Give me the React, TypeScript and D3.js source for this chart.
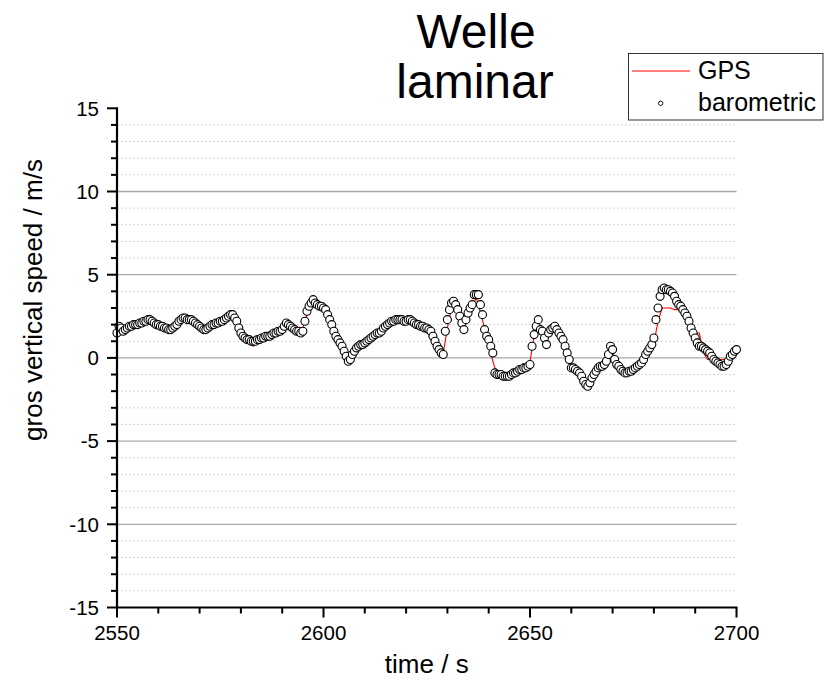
import React from "react";
import * as d3 from "d3";

const titleLines = ["Welle", "laminar"];
const xLabel = "time / s";
const yLabel = "gros vertical speed / m/s";
const legendLabels = ["GPS", "barometric"];

const xMajorTicks = [2550, 2600, 2650, 2700];
const yMajorTicks = [-15, -10, -5, 0, 5, 10, 15];

// GPS vertical speed, one sample per second from 2550 s
const gpsStart = 2550;
const gpsStep = 1;
const gpsValues = [
  2.0, 1.7, 1.8, 1.9, 2.0, 2.0, 2.1, 2.2, 2.3, 2.2,
  2.0, 1.9, 2.0, 1.8, 1.8, 2.1, 2.4, 2.3, 2.3, 2.2,
  1.9, 1.8, 1.8, 2.0, 2.1, 2.2, 2.4, 2.5, 2.6, 2.3,
  1.6, 1.2, 0.9, 0.7, 1.0, 1.2, 1.3, 1.4, 1.5, 1.6,
  1.8, 2.0, 1.9, 1.7, 1.6, 1.8, 2.6, 3.0, 3.1, 3.1,
  2.9, 2.5, 2.0, 1.4, 0.9, 0.3, -0.1, 0.1, 0.5, 0.8,
  1.0, 1.1, 1.3, 1.5, 1.7, 1.9, 2.1, 2.2, 2.3, 2.4,
  2.2, 2.2, 2.1, 2.0, 1.9, 1.7, 1.4, 0.9, 0.4, 0.3,
  1.8, 3.0, 3.0, 2.5, 2.1, 2.6, 3.1, 3.6, 2.7, 1.8,
  0.8, -0.2, -1.0, -1.2, -1.3, -1.3, -1.0, -0.9, -0.7, -0.5,
  -0.2, 1.3, 1.8, 1.8, 1.5, 1.6, 1.7, 1.4, 0.8, 0.2,
  -0.5, -0.8, -1.0, -1.4, -1.6, -1.3, -0.8, -0.6, -0.3, 0.0,
  0.4, -0.3, -0.6, -0.8, -0.8, -0.6, -0.4, -0.2, 0.1, 0.5,
  0.9, 2.2, 3.0, 3.0, 3.0, 2.9, 2.9, 2.6, 2.2, 1.6,
  1.5, 1.5, 0.3, -0.1, -0.1, -0.1, -0.1, -0.1, 0.0, 0.2,
  0.5,
];

// Barometric vertical speed, one sample every 0.5 s from 2550 s
const baroStart = 2550;
const baroStep = 0.5;
const baroValues = [
  1.5, 1.9, 1.8, 1.6, 1.7, 1.8, 1.9, 1.9, 2.0, 2.0,
  2.0, 2.1, 2.1, 2.2, 2.2, 2.3, 2.3, 2.2, 2.1, 2.0,
  2.0, 1.9, 1.9, 1.8, 1.8, 1.7, 1.7, 1.8, 1.9, 2.0,
  2.2, 2.3, 2.4, 2.4, 2.3, 2.3, 2.3, 2.2, 2.1, 2.0,
  1.9, 1.8, 1.7, 1.7, 1.8, 1.9, 2.0, 2.0, 2.1, 2.1,
  2.2, 2.2, 2.3, 2.4, 2.5, 2.6, 2.6, 2.4, 2.2, 1.8,
  1.5, 1.3, 1.2, 1.1, 1.1, 1.0, 1.0, 1.0, 1.1, 1.1,
  1.2, 1.2, 1.3, 1.3, 1.3, 1.4, 1.5, 1.5, 1.6, 1.6,
  1.7, 1.9, 2.1, 2.0, 1.9, 1.8, 1.7, 1.6, 1.6, 1.5,
  1.6, 2.2, 2.8, 3.1, 3.3, 3.5, 3.3, 3.2, 3.1, 3.1,
  3.0, 2.9, 2.6, 2.3, 2.0, 1.6, 1.3, 1.1, 0.9, 0.7,
  0.4, 0.1, -0.2, -0.1, 0.2, 0.4, 0.6, 0.7, 0.8, 0.8,
  0.9, 1.0, 1.1, 1.2, 1.3, 1.4, 1.5, 1.5, 1.6, 1.8,
  1.9, 2.0, 2.1, 2.2, 2.2, 2.3, 2.3, 2.3, 2.3, 2.2,
  2.2, 2.3, 2.3, 2.2, 2.1, 2.0, 2.0, 1.9, 1.9, 1.8,
  1.8, 1.7, 1.6, 1.3, 1.0, 0.7, 0.5, 0.3, 0.2, 1.6,
  2.3, 2.9, 3.3, 3.4, 3.2, 2.9, 2.5, 2.1, 1.7, 2.3,
  2.7, 3.0, 3.2, 3.8, 3.8, 3.8, 3.2, 2.6, 1.7, 1.3,
  1.1, 0.7, 0.3, -0.9, -1.0, -1.0, -1.0, -1.1, -1.1, -1.1,
  -1.1, -1.0, -0.9, -0.9, -0.8, -0.7, -0.7, -0.6, -0.6, -0.5,
  -0.4, 0.7, 1.4, 1.9, 2.3, 1.7, 1.6, 1.2, 0.8, 1.5,
  1.7, 1.8, 1.9, 1.7, 1.5, 1.3, 1.1, 0.7, 0.3, -0.1,
  -0.6, -0.6, -0.7, -0.8, -0.9, -1.1, -1.4, -1.6, -1.7, -1.5,
  -1.2, -1.0, -0.8, -0.6, -0.5, -0.5, -0.4, -0.2, 0.2, 0.7,
  0.5, -0.1, -0.4, -0.5, -0.7, -0.8, -0.9, -0.9, -0.8, -0.8,
  -0.7, -0.6, -0.5, -0.4, -0.3, -0.1, 0.2, 0.4, 0.6, 0.8,
  1.2, 2.3, 3.0, 3.7, 4.1, 4.2, 4.1, 4.1, 4.0, 3.9,
  3.7, 3.4, 3.2, 3.1, 2.9, 2.7, 2.5, 2.2, 1.8, 1.5,
  1.2, 0.9, 0.7, 0.7, 0.6, 0.5, 0.4, 0.3, 0.1, -0.1,
  -0.2, -0.3, -0.4, -0.5, -0.5, -0.4, -0.2, 0.1, 0.2, 0.4,
  0.5,
];

const FONT = "'Liberation Sans', Arial, Helvetica, sans-serif";

export default function App() {
  const width = 827;
  const height = 683;
  const left = 117;
  const right = 736.5;
  const top = 108.3;
  const bottom = 607.5;

  const x = d3.scaleLinear().domain([2550, 2700]).range([left, right]);
  const y = d3.scaleLinear().domain([-15, 15]).range([bottom, top]);

  const gpsData = gpsValues.map((v, i) => ({ t: gpsStart + i * gpsStep, v }));
  const baroData = baroValues.map((v, i) => ({ t: baroStart + i * baroStep, v }));

  const line = d3
    .line<{ t: number; v: number }>()
    .x((d) => x(d.t))
    .y((d) => y(d.v));

  const xMinor = d3.range(2550, 2701, 10).filter((t) => !xMajorTicks.includes(t));
  const yAll = d3.range(-15, 16, 1);
  const yMinor = yAll.filter((v) => !yMajorTicks.includes(v));
  const yGridMajor = yMajorTicks.filter((v) => v !== -15 && v !== 15);
  const yGridMinor = yMinor;

  return (
    <>
      <style>{`body{margin:0;}`}</style>
      <svg width={width} height={height} style={{ display: "block", background: "#fff" }} fontFamily={FONT}>
        <rect x={0} y={0} width={width} height={height} fill="#fff" />
        {/* grid */}
        {yGridMinor.map((v) => (
          <line key={"gm" + v} x1={left} x2={right} y1={y(v)} y2={y(v)} stroke="#d4d4d4" strokeWidth={1} strokeDasharray="2,2" />
        ))}
        {yGridMajor.map((v) => (
          <line key={"gM" + v} x1={left} x2={right} y1={y(v)} y2={y(v)} stroke="#a8a8a8" strokeWidth={1.3} />
        ))}

        {/* data */}
        <path d={line(gpsData) || ""} fill="none" stroke="#ff0000" strokeWidth={1.1} />
        {baroData.map((d, i) => (
          <circle key={"b" + i} cx={x(d.t)} cy={y(d.v)} r={4} fill="#fff" stroke="#000" strokeWidth={1.1} />
        ))}

        {/* axes */}
        <line x1={left} x2={left} y1={top - 1} y2={bottom + 1} stroke="#000" strokeWidth={2.2} />
        <line x1={left - 1} x2={right + 1} y1={bottom} y2={bottom} stroke="#000" strokeWidth={2.2} />
        {yMajorTicks.map((v) => (
          <g key={"yt" + v}>
            <line x1={left - 10} x2={left} y1={y(v)} y2={y(v)} stroke="#000" strokeWidth={2} />
            <text x={99} y={y(v)} dy="0.36em" textAnchor="end" fontSize={20.5} fill="#000">
              {v}
            </text>
          </g>
        ))}
        {yMinor.map((v) => (
          <line key={"ytm" + v} x1={left - 6} x2={left} y1={y(v)} y2={y(v)} stroke="#000" strokeWidth={2} />
        ))}
        {xMajorTicks.map((t) => (
          <g key={"xt" + t}>
            <line x1={x(t)} x2={x(t)} y1={bottom} y2={bottom + 10} stroke="#000" strokeWidth={2} />
            <text x={x(t)} y={640} textAnchor="middle" fontSize={20.5} fill="#000">
              {t}
            </text>
          </g>
        ))}
        {xMinor.map((t) => (
          <line key={"xtm" + t} x1={x(t)} x2={x(t)} y1={bottom} y2={bottom + 6} stroke="#000" strokeWidth={2} />
        ))}

        {/* axis labels */}
        <text x={(left + right) / 2} y={673} textAnchor="middle" fontSize={26} fill="#000">
          {xLabel}
        </text>
        <text transform="translate(42,300) rotate(-90)" textAnchor="middle" fontSize={26} fill="#000">
          {yLabel}
        </text>

        {/* title */}
        <text x={476} y={48} textAnchor="middle" fontSize={48} fill="#000">
          {titleLines[0]}
        </text>
        <text x={475} y={98} textAnchor="middle" fontSize={48} fill="#000">
          {titleLines[1]}
        </text>

        {/* legend */}
        <rect x={628.5} y={53.5} width={194.5} height={66.5} fill="#fff" stroke="#333" strokeWidth={1} />
        <line x1={632} x2={690} y1={71} y2={71} stroke="#ff0000" strokeWidth={1.1} />
        <text x={698} y={79} fontSize={25} fill="#000">
          {legendLabels[0]}
        </text>
        <circle cx={660.7} cy={103.3} r={2.2} fill="#fff" stroke="#000" strokeWidth={0.9} />
        <text x={698} y={111} fontSize={25} fill="#000">
          {legendLabels[1]}
        </text>
      </svg>
    </>
  );
}
